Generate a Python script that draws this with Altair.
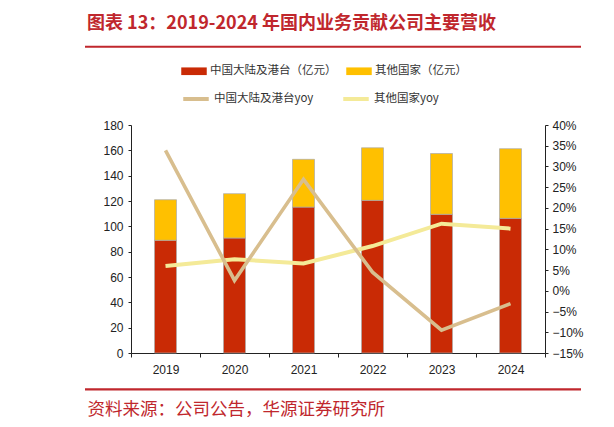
import altair as alt
import pandas as pd

years = ["2019", "2020", "2021", "2022", "2023", "2024"]
mainland = [89.0, 90.8, 115.2, 120.5, 109.5, 106.3]
others = [32.0, 35.0, 37.7, 41.5, 48.0, 55.0]
mainland_yoy = [33.9, 2.5, 26.9, 4.5, -9.5, -3.1]
others_yoy = [6.0, 7.6, 6.6, 10.8, 16.2, 15.0]

bar_names = ["中国大陆及港台（亿元）", "其他国家（亿元）"]
line_names = ["中国大陆及港台yoy", "其他国家yoy"]
bar_colors = ["#C92A05", "#FFC000"]
line_colors = ["#D8BE8E", "#F4EA98"]

title_text = "图表 13：2019-2024 年国内业务贡献公司主要营收"
source_text = "资料来源：公司公告，华源证券研究所"

RED = "#C0272D"
NUM_FONT = "Liberation Sans, Arial"
CJK_FONT = "Noto Sans CJK SC"

rows = []
for i, y in enumerate(years):
    rows.append({"year": y, "series": bar_names[0], "value": mainland[i], "ord": 0})
    rows.append({"year": y, "series": bar_names[1], "value": others[i], "ord": 1})
bar_df = pd.DataFrame(rows)

ly_df = pd.DataFrame({"year": years, "series": line_names[0], "yoy": mainland_yoy})
oy_df = pd.DataFrame({"year": years, "series": line_names[1], "yoy": others_yoy})

x_enc = alt.X(
    "year:N",
    title=source_text,
    scale=alt.Scale(paddingInner=0, paddingOuter=0),
    axis=alt.Axis(
        labelAngle=0,
        tickBand="extent",
        labelFont=NUM_FONT,
        labelFontSize=12,
        labelColor="#222222",
        labelPadding=7,
        tickSize=4,
        domainColor="#222222",
        tickColor="#222222",
        grid=False,
        titleX=-44,
        titleY=56,
        titleAlign="left",
        titleAnchor="start",
        titleBaseline="middle",
        titleFont=CJK_FONT,
        titleFontSize=17.5,
        titleFontWeight="normal",
        titleColor=RED,
        titleLimit=500,
    ),
)

bars = alt.Chart(bar_df).mark_bar(size=22, stroke="#AAAAAA", strokeWidth=0.7).encode(
    x=x_enc,
    y=alt.Y(
        "value:Q",
        stack="zero",
        title=None,
        scale=alt.Scale(domain=[0, 180], nice=False),
        axis=alt.Axis(
            values=list(range(0, 181, 20)),
            orient="left",
            labelFont=NUM_FONT,
            labelFontSize=12,
            labelColor="#222222",
            labelPadding=5,
            tickSize=3,
            domainColor="#222222",
            tickColor="#222222",
            grid=False,
        ),
    ),
    fill=alt.Fill(
        "series:N",
        title=None,
        scale=alt.Scale(domain=bar_names, range=bar_colors),
        legend=alt.Legend(
            orient="none",
            legendX=50,
            legendY=-67,
            direction="horizontal",
            symbolType="M-1,-0.3L1,-0.3L1,0.3L-1,0.3Z",
            symbolSize=650,
            symbolStrokeWidth=0,
            labelFont=CJK_FONT,
            labelFontSize=11.5,
            labelColor="#333333",
            labelOffset=3,
            gridAlign="all",
            columnPadding=9,
            padding=0,
        ),
    ),
    order=alt.Order("ord:Q"),
)

line_stroke = alt.Stroke(
    "series:N",
    title=None,
    scale=alt.Scale(domain=line_names, range=line_colors),
    legend=alt.Legend(
        orient="none",
        legendX=50,
        legendY=-41,
        direction="horizontal",
        symbolType="stroke",
        symbolSize=650,
        symbolStrokeWidth=4,
        labelFont=CJK_FONT,
        labelFontSize=11.5,
        labelColor="#333333",
        labelOffset=3,
        gridAlign="all",
        columnPadding=21,
        padding=0,
    ),
)

y_right = alt.Y(
    "yoy:Q",
    title=None,
    scale=alt.Scale(domain=[-15, 40], nice=False),
    axis=alt.Axis(
        orient="right",
        values=list(range(-15, 41, 5)),
        labelExpr="format(datum.value, 'd') + '%'",
        labelFont=NUM_FONT,
        labelFontSize=12,
        labelColor="#222222",
        labelPadding=4,
        tickSize=3,
        domainColor="#222222",
        tickColor="#222222",
        grid=False,
    ),
)

yellow_line = alt.Chart(oy_df).mark_line(strokeWidth=4).encode(
    x=alt.X("year:N"), y=y_right, stroke=line_stroke
)
tan_line = alt.Chart(ly_df).mark_line(strokeWidth=3.6).encode(
    x=alt.X("year:N"), y=y_right, stroke=line_stroke
)
lines = alt.layer(yellow_line, tan_line)

top_rule = alt.Chart(pd.DataFrame({"a": [0]})).mark_rule(color=RED, strokeWidth=2).encode(
    x=alt.value(-46), x2=alt.value(450), y=alt.value(-78.3)
)
bottom_rule = alt.Chart(pd.DataFrame({"a": [0]})).mark_rule(color=RED, strokeWidth=2.2).encode(
    x=alt.value(-46), x2=alt.value(450), y=alt.value(264.3)
)

chart = (
    alt.layer(bars, lines, top_rule, bottom_rule)
    .resolve_scale(y="independent")
    .properties(
        width=414,
        height=228,
        autosize=alt.AutoSizeParams(type="none"),
        padding={"left": 123, "top": 117, "right": 55, "bottom": 70},
        background="white",
        title=alt.TitleParams(
            text=title_text,
            anchor="start",
            frame="group",
            dx=-44,
            offset=13,
            limit=560,
            font=CJK_FONT,
            fontSize=18,
            fontWeight="bold",
            color=RED,
        ),
    )
    .configure_view(stroke=None)
)

chart.save("out.html", embed_options={"renderer": "svg", "actions": False})
